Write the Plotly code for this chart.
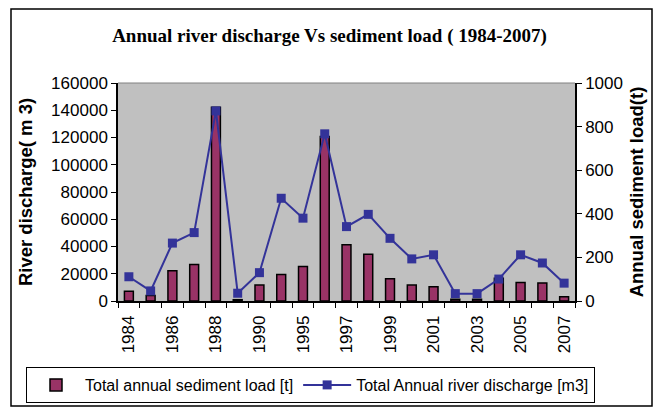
import plotly.graph_objects as go

# Years on the category axis (one gap year between 1990 and 1995)
years = ["1984", "1985", "1986", "1987", "1988", "1989", "1990", "1994",
         "1995", "1996", "1997", "1998", "1999", "2000", "2001", "2002",
         "2003", "2004", "2005", "2006", "2007"]
# Every other year is labelled
tick_labels = [y if i % 2 == 0 else "" for i, y in enumerate(years)]

# Total annual sediment load [t]
sediment_load = [45, 25, 139, 168, 889, 6, 73, 122, 158, 755, 258, 215,
                 102, 73, 65, 8, 8, 104, 85, 83, 19]
# Total annual river discharge [m3]
river_discharge = [17800, 7400, 42500, 50200, 139500, 5700, 20800, 75400,
                   60800, 122700, 54600, 63600, 46000, 30900, 33900, 5400,
                   5400, 16100, 33900, 27900, 13100]

W, H = 659, 407
L, R, T, B = 118, 84, 83, 106
PW, PH = W - L - R, H - T - B

fig = go.Figure()

fig.add_trace(go.Bar(
    x=years, y=sediment_load, name="Total annual sediment load [t]",
    marker=dict(color="#993366", line=dict(color="black", width=1.5)),
    width=0.41, yaxis="y",
))
fig.add_trace(go.Scatter(
    x=years, y=river_discharge, name="Total Annual river discharge [m3]",
    mode="lines+markers",
    line=dict(color="#333399", width=2),
    marker=dict(symbol="square", size=9, color="#333399"),
    yaxis="y2",
))

tick_font = dict(family="Liberation Sans, Arial", size=17, color="black")
title_font = dict(family="Liberation Sans, Arial", size=18.5, color="black")

fig.update_layout(
    width=W, height=H,
    margin=dict(l=L, r=R, t=T, b=B, autoexpand=False),
    paper_bgcolor="white",
    plot_bgcolor="#C0C0C0",
    showlegend=True,
    title=dict(
        text="<b>Annual river discharge Vs sediment load ( 1984-2007)</b>",
        font=dict(family="Liberation Serif, Times New Roman", size=19, color="black"),
        x=0.5, xanchor="center", y=1 - 35 / H, yanchor="middle",
    ),
    xaxis=dict(
        type="category", categoryorder="array", categoryarray=years,
        range=[-0.5, len(years) - 0.5],
        tickmode="array", tickvals=years, ticktext=tick_labels,
        tickangle=-90, tickfont=tick_font, ticklabelstandoff=6,
        tickson="boundaries", ticks="outside", ticklen=5, tickcolor="black",
        showline=True, linecolor="black", linewidth=1.5,
        showgrid=False, zeroline=False,
    ),
    yaxis=dict(
        side="right", range=[0, 1000], dtick=200, tickformat="d",
        title=dict(text="<b>Annual sediment load(t)</b>", font=title_font, standoff=8),
        tickfont=tick_font, ticks="outside", ticklen=5, tickcolor="black",
        showline=True, linecolor="black", linewidth=1.5,
        showgrid=False, zeroline=False,
    ),
    yaxis2=dict(
        side="left", overlaying="y", range=[0, 160000], dtick=20000, tickformat="d",
        title=dict(text="<b>River discharge( m 3)</b>", font=title_font, standoff=14),
        tickfont=tick_font, ticks="outside", ticklen=5, tickcolor="black",
        showline=True, linecolor="black", linewidth=1.5,
        showgrid=False, zeroline=False,
    ),
    legend=dict(
        orientation="h",
        x=(26 - L) / PW, xanchor="left", y=(H - B - 367) / PH, yanchor="top",
        bordercolor="black", borderwidth=1, bgcolor="white",
        font=dict(family="Liberation Sans, Arial", size=16, color="black"),
        traceorder="normal", itemwidth=48,
    ),
    shapes=[
        # thin grey border along the top of the plot area
        dict(type="line", xref="paper", yref="paper", x0=0, x1=1, y0=1, y1=1,
             line=dict(color="#808080", width=1)),
        # outer chart frame
        dict(type="rect", xref="paper", yref="paper",
             x0=(11 - L) / PW, x1=(652 - L) / PW,
             y0=(H - B - 406) / PH, y1=(H - B - 9) / PH,
             line=dict(color="black", width=1.5)),
    ],
)

fig.write_html("out.html")
